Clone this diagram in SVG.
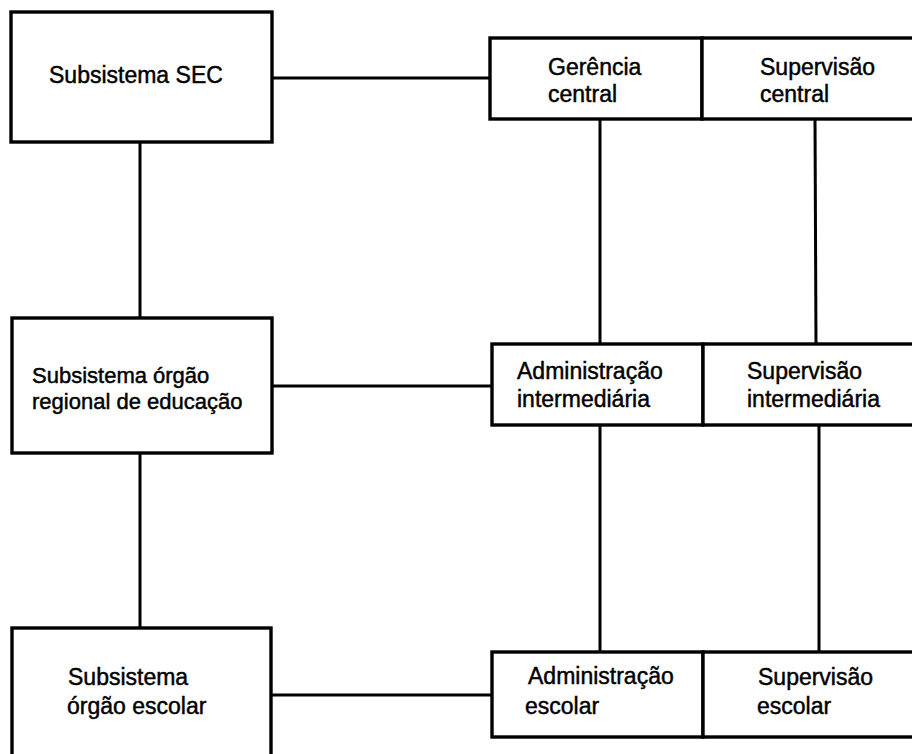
<svg xmlns="http://www.w3.org/2000/svg" width="912" height="754" viewBox="0 0 912 754">
<style>
.box{fill:#fff;stroke:#000;stroke-width:3.4}
.con{stroke:#000;stroke-width:3;fill:none}
text{font-family:"Liberation Sans",Arial,sans-serif;font-size:23px;fill:#000;stroke:#000;stroke-width:0.45}
.sm{font-size:22px}
</style>
<rect width="912" height="754" fill="#fff"/>
<g id="connectors">
<line class="con" x1="272" y1="78" x2="490" y2="78"/>
<line class="con" x1="140" y1="142" x2="140" y2="318"/>
<line class="con" x1="272" y1="386" x2="492" y2="386"/>
<line class="con" x1="140" y1="453" x2="140" y2="628"/>
<line class="con" x1="271" y1="695" x2="492" y2="695"/>
<line class="con" x1="600" y1="119" x2="600" y2="344"/>
<line class="con" x1="815" y1="119" x2="816" y2="344"/>
<line class="con" x1="600" y1="425" x2="600" y2="652"/>
<line class="con" x1="819" y1="425" x2="819" y2="652"/>
</g>
<g id="sec">
<rect class="box" x="11" y="12" width="261" height="130"/>
<text x="49" y="83">Subsistema SEC</text>
</g>
<g id="regional">
<rect class="box" x="12" y="318" width="260" height="135"/>
<text class="sm" x="32" y="383">Subsistema órgão</text>
<text class="sm" x="32" y="409">regional de educação</text>
</g>
<g id="escolar">
<rect class="box" x="12" y="628" width="259" height="140"/>
<text x="68" y="685">Subsistema</text>
<text x="67" y="714">órgão escolar</text>
</g>
<g id="gerencia-central">
<rect class="box" x="490" y="38" width="212" height="81"/>
<text x="548" y="75">Gerência</text>
<text x="548" y="102">central</text>
</g>
<g id="supervisao-central">
<rect class="box" x="702" y="38" width="220" height="81"/>
<text x="760" y="75">Supervisão</text>
<text x="760" y="102">central</text>
</g>
<g id="administracao-intermediaria">
<rect class="box" x="492" y="344" width="211" height="81"/>
<text x="517" y="379">Administração</text>
<text x="517" y="407">intermediária</text>
</g>
<g id="supervisao-intermediaria">
<rect class="box" x="703" y="344" width="219" height="81"/>
<text x="747" y="379">Supervisão</text>
<text x="747" y="407">intermediária</text>
</g>
<g id="administracao-escolar">
<rect class="box" x="492" y="652" width="211" height="85"/>
<text x="528" y="684">Administração</text>
<text x="525" y="714">escolar</text>
</g>
<g id="supervisao-escolar">
<rect class="box" x="703" y="652" width="219" height="85"/>
<text x="758" y="685">Supervisão</text>
<text x="757" y="714">escolar</text>
</g>
</svg>
